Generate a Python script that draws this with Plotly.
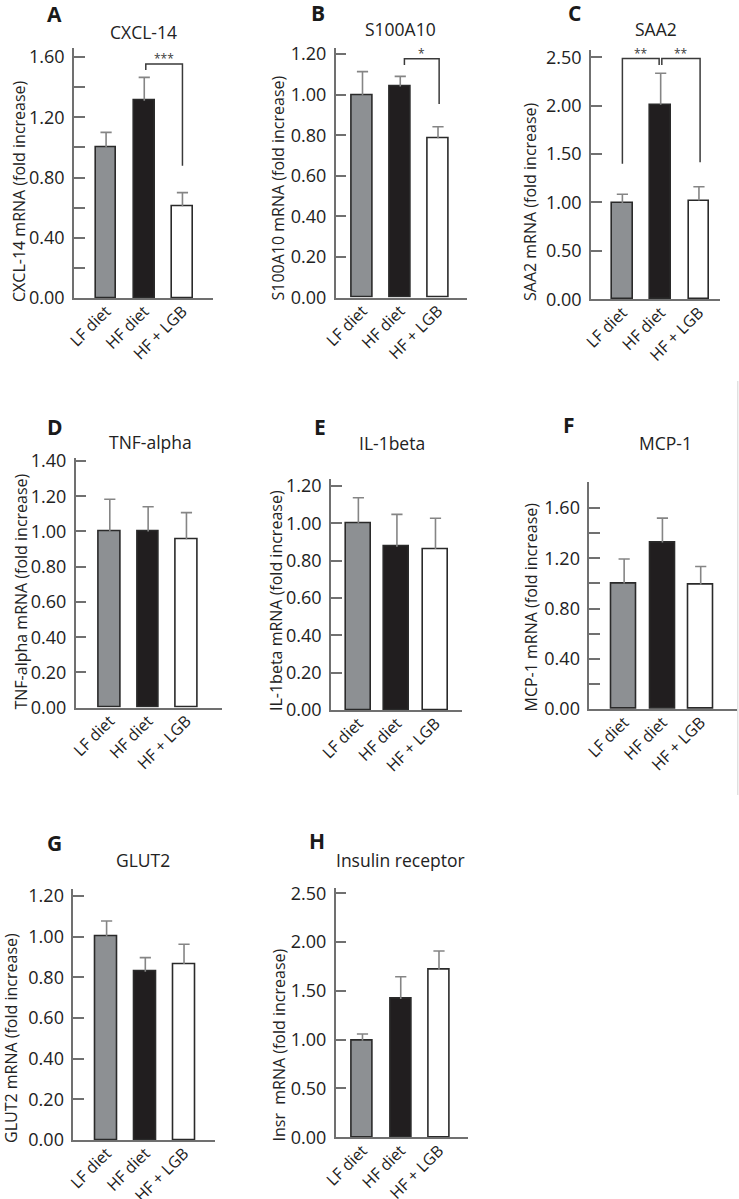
import plotly.graph_objects as go

W, H = 739, 1199

categories = ["LF diet", "HF diet", "HF + LGB"]
bar_fills = ["#8d9093", "#211e1f", "#ffffff"]

# Panel data: means and upper error (SEM)
cxcl14_mean = [1.00, 1.31, 0.61]
cxcl14_err = [0.10, 0.155, 0.09]
s100a10_mean = [0.995, 1.04, 0.785]
s100a10_err = [0.118, 0.05, 0.057]
saa2_mean = [0.99, 2.01, 1.02]
saa2_err = [0.095, 0.325, 0.143]
tnf_mean = [1.00, 1.00, 0.956]
tnf_err = [0.183, 0.14, 0.151]
il1b_mean = [1.00, 0.875, 0.862]
il1b_err = [0.137, 0.173, 0.165]
mcp1_mean = [1.00, 1.326, 0.99]
mcp1_err = [0.194, 0.194, 0.145]
glut2_mean = [1.00, 0.828, 0.866]
glut2_err = [0.077, 0.069, 0.097]
insr_mean = [0.99, 1.417, 1.714]
insr_err = [0.068, 0.228, 0.195]

# Tick values / labels
ticks_04 = [0.0, 0.2, 0.4, 0.6, 0.8, 1.0, 1.2, 1.4, 1.6]
ticks_04_text = ["0.00", "", "0.40", "", "0.80", "", "1.20", "", "1.60"]
ticks_12 = [0.0, 0.2, 0.4, 0.6, 0.8, 1.0, 1.2]
ticks_12_text = ["0.00", "0.20", "0.40", "0.60", "0.80", "1.00", "1.20"]
ticks_14 = [0.0, 0.2, 0.4, 0.6, 0.8, 1.0, 1.2, 1.4]
ticks_14_text = ["0.00", "0.20", "0.40", "0.60", "0.80", "1.00", "1.20", "1.40"]
ticks_25 = [0.0, 0.5, 1.0, 1.5, 2.0, 2.5]
ticks_25_text = ["0.00", "0.50", "1.00", "1.50", "2.00", "2.50"]

letters = ["A", "B", "C", "D", "E", "F", "G", "H"]
titles = ["CXCL-14", "S100A10", "SAA2", "TNF-alpha", "IL-1beta", "MCP-1", "GLUT2", "Insulin receptor"]
ytitles = ["CXCL-14 mRNA (fold increase)", "S100A10 mRNA (fold increase)",
           "SAA2 mRNA (fold increase)", "TNF-alpha mRNA (fold increase)",
           "IL-1beta mRNA (fold increase)", "MCP-1 mRNA (fold increase)",
           "GLUT2 mRNA (fold increase)", "Insr\u00a0 mRNA (fold increase)"]

# Significance brackets: (panel, x_left, x_right, y_top, y_left_end, y_right_end, label)
brackets = [
    (0, 1.04, 2.0, 1.554, 1.514, 0.878, "***"),
    (1, 1.11, 2.03, 1.176, 1.146, 0.954, "*"),
    (2, 0.0, 0.96, 2.487, 1.40, 2.42, "**"),
    (2, 1.03, 2.03, 2.487, 2.42, 1.415, "**"),
]

# layout geometry (pixels): plot box left, right, top, bottom
panels = [
    dict(mean=cxcl14_mean, err=cxcl14_err, box=(74, 213, 48.3, 298), yr=1.658, xr=(-0.84, 2.80), tv=ticks_04, tt=ticks_04_text, bw=0.54,
         letter=(55, 14), title=(143, 32), ytitle=(19, 191)),
    dict(mean=s100a10_mean, err=s100a10_err, box=(335.7, 466.7, 48.3, 297.7), yr=1.228, xr=(-0.71, 2.76), tv=ticks_12, tt=ticks_12_text, bw=0.56,
         letter=(318, 13), title=(400, 29), ytitle=(277.5, 188)),
    dict(mean=saa2_mean, err=saa2_err, box=(591, 720, 50, 299.3), yr=2.575, xr=(-0.82, 2.55), tv=ticks_25, tt=ticks_25_text, bw=0.54,
         letter=(574, 13), title=(656, 29), ytitle=(530, 202)),
    dict(mean=tnf_mean, err=tnf_err, box=(75.7, 221.7, 458.3, 707.7), yr=1.415, xr=(-0.89, 2.92), tv=ticks_14, tt=ticks_14_text, bw=0.57,
         letter=(55, 426.7), title=(150, 441.7), ytitle=(20, 591.5)),
    dict(mean=il1b_mean, err=il1b_err, box=(331, 461.7, 479.3, 710), yr=1.236, xr=(-0.71, 2.68), tv=ticks_12, tt=ticks_12_text, bw=0.65,
         letter=(320, 426.7), title=(391.7, 443.3), ytitle=(276, 601)),
    dict(mean=mcp1_mean, err=mcp1_err, box=(589.3, 736.7, 481.7, 709), yr=1.81, xr=(-0.91, 2.94), tv=ticks_04, tt=ticks_04_text, bw=0.65,
         letter=(569.3, 425), title=(665, 442.7), ytitle=(530, 607.5)),
    dict(mean=glut2_mean, err=glut2_err, box=(73.3, 215, 889.3, 1140), yr=1.233, xr=(-0.86, 2.80), tv=ticks_12, tt=ticks_12_text, bw=0.56,
         letter=(55, 843.3), title=(143.3, 860), ytitle=(11, 1038)),
    dict(mean=insr_mean, err=insr_err, box=(335.7, 467.7, 887.7, 1137.3), yr=2.557, xr=(-0.70, 2.75), tv=ticks_25, tt=ticks_25_text, bw=0.55,
         letter=(317.3, 841), title=(400.7, 860), ytitle=(278, 1045.5)),
]

FONT = "Open Sans, Noto Sans, sans-serif"
TXT = "#222222"
AXC = "#707070"
ERRC = "#858585"
OUTL = "#2a2a2a"

fig = go.Figure()
annotations = []
shapes = []
layout = {}


def px(x):
    return x / W


def py(y):
    return 1 - y / H


for i, p in enumerate(panels):
    n = i + 1
    xa = "x" if n == 1 else f"x{n}"
    ya = "y" if n == 1 else f"y{n}"
    xkey = "xaxis" if n == 1 else f"xaxis{n}"
    ykey = "yaxis" if n == 1 else f"yaxis{n}"
    l, r, t, b = p["box"]

    fig.add_trace(go.Bar(
        x=categories, y=p["mean"], width=p["bw"], xaxis=xa, yaxis=ya,
        marker=dict(color=bar_fills, line=dict(color=OUTL, width=1.6)),
        error_y=dict(type="data", array=p["err"], arrayminus=[0, 0, 0], symmetric=False,
                     color=ERRC, thickness=1.6, width=0),
        showlegend=False, hoverinfo="skip",
    ))
    tops = [m + e for m, e in zip(p["mean"], p["err"])]
    fig.add_trace(go.Scatter(
        x=categories, y=tops, mode="markers", xaxis=xa, yaxis=ya,
        marker=dict(symbol="line-ew", size=8, line=dict(color=ERRC, width=1.6)),
        showlegend=False, hoverinfo="skip",
    ))

    layout[xkey] = dict(
        domain=[px(l), px(r)], anchor=ya, range=list(p["xr"]), type="category",
        showline=True, linecolor=AXC, linewidth=1.5, ticks="", showgrid=False, zeroline=False,
        tickangle=-45, tickfont=dict(family=FONT, size=16, color=TXT), fixedrange=True,
        automargin=False, ticklabelstandoff=-4,
    )
    layout[ykey] = dict(
        domain=[py(b), py(t)], anchor=xa, range=[0, p["yr"]],
        showline=True, linecolor=AXC, linewidth=1.5, ticks="inside", ticklen=11,
        tickcolor=AXC, tickwidth=1.5, tickvals=p["tv"], ticktext=p["tt"],
        showgrid=False, zeroline=False, ticklabelstandoff=4,
        tickfont=dict(family=FONT, size=18, color=TXT), fixedrange=True,
        automargin=False,
    )

    lx, ly = p["letter"]
    annotations.append(dict(text="<b>%s</b>" % letters[i], x=px(lx), y=py(ly), xref="paper", yref="paper",
                            showarrow=False, xanchor="center", yanchor="middle",
                            font=dict(family=FONT, size=21, color="#1a1a1a")))
    tx, ty = p["title"]
    annotations.append(dict(text=titles[i], x=px(tx), y=py(ty), xref="paper", yref="paper",
                            showarrow=False, xanchor="center", yanchor="middle",
                            font=dict(family=FONT, size=17.5, color=TXT)))
    yx, yy = p["ytitle"]
    annotations.append(dict(text=ytitles[i], x=px(yx), y=py(yy), xref="paper", yref="paper",
                            showarrow=False, xanchor="center", yanchor="middle", textangle=-90,
                            font=dict(family=FONT, size=16, color=TXT)))

# significance brackets
for (pi, x0, x1, ytop, yl, yr_, lab) in brackets:
    n = pi + 1
    xa = "x" if n == 1 else f"x{n}"
    ya = "y" if n == 1 else f"y{n}"
    shapes.append(dict(type="path", xref=xa, yref=ya,
                       path=f"M {x0},{yl} L {x0},{ytop} L {x1},{ytop} L {x1},{yr_}",
                       line=dict(color="#3a3a3a", width=1.5)))
    annotations.append(dict(text=lab, x=(x0 + x1) / 2, y=ytop, xref=xa, yref=ya,
                            showarrow=False, xanchor="center", yanchor="bottom", yshift=-5,
                            font=dict(family=FONT, size=12, color="#3a3a3a")))

shapes.append(dict(type="line", xref="paper", yref="paper", x0=px(737.8), x1=px(737.8),
                   y0=py(381), y1=py(795), line=dict(color="#d4d4d4", width=1)))

fig.update_layout(
    width=W, height=H, margin=dict(l=0, r=0, t=0, b=0, autoexpand=False),
    paper_bgcolor="white", plot_bgcolor="rgba(0,0,0,0)",
    annotations=annotations, shapes=shapes, bargap=0, showlegend=False,
    **layout,
)
fig.update_xaxes(categoryorder="array", categoryarray=categories)

fig.write_html("out.html", config={"displayModeBar": False},
               post_script="document.body.style.margin='0';document.body.style.padding='0';")
